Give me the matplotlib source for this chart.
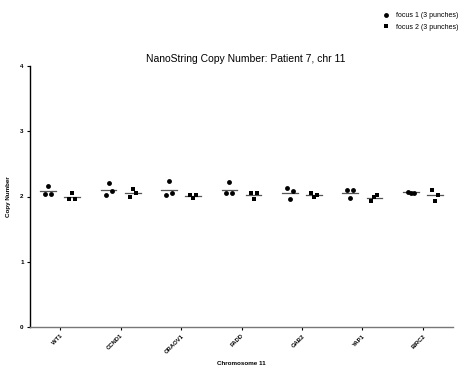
import matplotlib
matplotlib.use("Agg")
import matplotlib.pyplot as plt
import numpy as np
from matplotlib.lines import Line2D

plt.rcParams['font.family'] = ['Liberation Sans', 'DejaVu Sans']

genes = ["WT1", "CCND1", "ORAOV1", "FADD", "GAB2", "YAP1", "BIRC2"]
focus1 = [
    [2.04, 2.16, 2.04],
    [2.03, 2.21, 2.08],
    [2.02, 2.24, 2.05],
    [2.05, 2.22, 2.05],
    [2.13, 1.96, 2.08],
    [2.10, 1.98, 2.10],
    [2.07, 2.06, 2.06],
]
focus2 = [
    [1.96, 2.05, 1.96],
    [1.99, 2.12, 2.05],
    [2.02, 1.98, 2.02],
    [2.06, 1.96, 2.06],
    [2.05, 1.99, 2.02],
    [1.93, 1.99, 2.03],
    [2.10, 1.93, 2.03],
]
legend_labels = ["focus 1 (3 punches)", "focus 2 (3 punches)"]

fig = plt.figure(figsize=(4.72, 3.86), dpi=100)
ax = fig.add_axes([30/472, 59/386, 423/472, 261/386])

jit = np.array([-0.05, 0.0, 0.05])
off = 0.2
hw = 0.13
for i in range(len(genes)):
    for vals, d, mk in ((focus1[i], -off, 'o'), (focus2[i], off, 's')):
        xs = i + d + jit
        ax.plot(xs, vals, linestyle='none', marker=mk, color='black',
                markersize=3.5 if mk == 'o' else 3.3, markeredgewidth=0)
        m = np.mean(vals)
        ax.plot([i + d - hw, i + d + hw], [m, m], color='#555555', lw=0.9, zorder=1)

ax.set_xlim(-0.5, 6.5)
ax.set_ylim(0, 4)
ax.set_yticks([0, 1, 2, 3, 4])
ax.set_xticks(range(len(genes)))
ax.set_xticklabels(genes, rotation=45, ha='right', rotation_mode='anchor',
                   fontsize=4.2, fontweight='bold')
ax.tick_params(axis='y', labelsize=4.5, length=2.5, width=0.8, pad=2)
ax.tick_params(axis='x', length=2.5, width=0.8, pad=2)
for t in ax.get_yticklabels():
    t.set_fontweight('bold')
ax.spines['top'].set_visible(False)
ax.spines['right'].set_visible(False)
ax.spines['left'].set_linewidth(1.0)
ax.spines['bottom'].set_linewidth(1.0)
ax.spines['bottom'].set_color('#777777')

ax.set_ylabel("Copy Number", fontsize=4.5, fontweight='bold', labelpad=7)
ax.set_xlabel("Chromosome 11", fontsize=4.5, fontweight='bold', labelpad=5)
fig.text(0.52, 0.835, "NanoString Copy Number: Patient 7, chr 11", fontsize=7.5,
         ha='center', va='bottom')

handles = [Line2D([], [], marker='o', color='black', linestyle='none', markersize=3.5, markeredgewidth=0),
           Line2D([], [], marker='s', color='black', linestyle='none', markersize=3.3, markeredgewidth=0)]
fig.legend(handles, legend_labels, loc='upper right', bbox_to_anchor=(0.985, 0.985),
           frameon=False, fontsize=5.0, handletextpad=0.9, labelspacing=0.7,
           handlelength=1.0)

fig.savefig("out.png", dpi=100)
